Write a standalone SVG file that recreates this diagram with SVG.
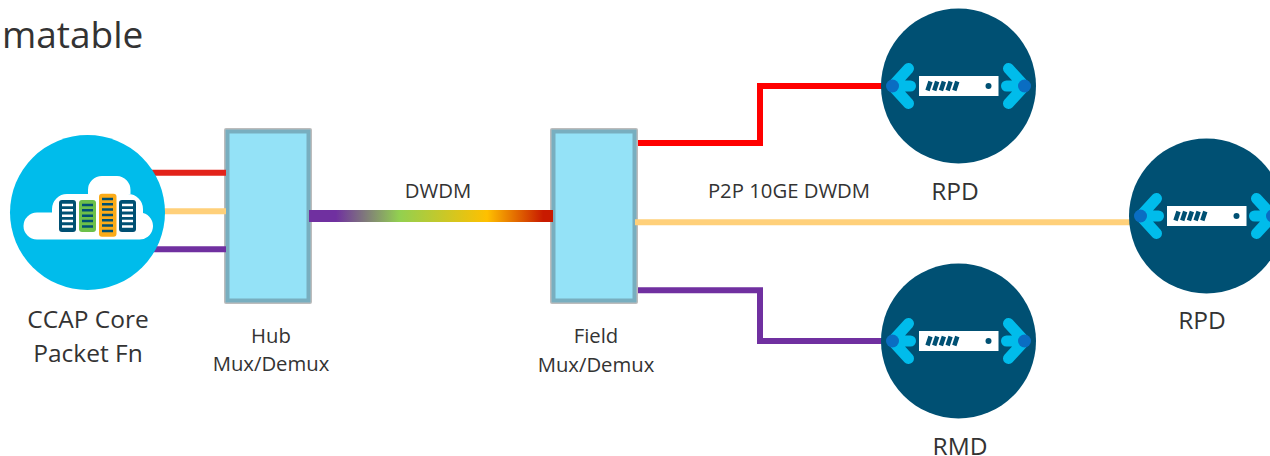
<svg xmlns="http://www.w3.org/2000/svg" width="1270" height="456" viewBox="0 0 1270 456">
<style>
text{font-family:"Open Sans","Noto Sans","Liberation Sans",sans-serif;fill:#333;text-anchor:middle}
.l{font-size:24.5px}.s{font-size:20.300px}
.c{fill:none;stroke-linejoin:miter}
.box{fill:#94e2f7;stroke:#78aebf;stroke-width:4}
.boxo{fill:#bcbcbc}
</style>
<defs>
<linearGradient id="g" x1="0" x2="1" y1="0" y2="0">
<stop offset="0" stop-color="#7030a0"/><stop offset=".11" stop-color="#7030a0"/><stop offset=".37" stop-color="#92d050"/><stop offset=".73" stop-color="#ffc000"/><stop offset=".96" stop-color="#c81a00"/><stop offset="1" stop-color="#c81a00"/>
</linearGradient>
<g id="rpd">
<circle r="77.500" fill="#005073"/>
<rect x="-39.500" y="-10" width="79.500" height="20" fill="#fff"/>
<path d="M-28-4.500l-3 9M-21.300-4.500l-3 9M-14.600-4.500l-3 9M-7.900-4.500l-3 9M-1.200-4.500l-3 9" stroke="#005073" stroke-width="4.500" fill="none"/>
<circle cx="30" r="3" fill="#005073"/>
<g stroke="#00bceb" stroke-width="11" stroke-linecap="round" stroke-linejoin="round" fill="none">
<path d="M-50-17.500L-66 0L-50 17.500M-66 0H-48"/>
<path d="M50-17.500L66 0L50 17.500M66 0H48"/>
</g>
<circle cx="-66" r="6.500" fill="#0a6dc2"/><circle cx="66" r="6.500" fill="#0a6dc2"/>
</g>
</defs>
<text x="2" y="48" style="font-size:37px;text-anchor:start">matable</text>
<g id="hub">
<rect class="boxo" x="224" y="128" width="88" height="176" rx="2"/>
<rect class="box" x="227.500" y="131.500" width="81" height="169"/>
<text class="s" x="271" y="343">Hub</text>
<text class="s" x="271" y="371">Mux/Demux</text>
</g>
<g id="field">
<rect class="boxo" x="550" y="128" width="88" height="176" rx="2"/>
<rect class="box" x="553.500" y="131.500" width="81" height="169"/>
<text class="s" x="596" y="343">Field</text>
<text class="s" x="596" y="372">Mux/Demux</text>
</g>
<g id="connectors">
<path class="c" d="M150 172.700H226" stroke="#e2231a" stroke-width="6"/>
<path class="c" d="M150 211.300H226" stroke="#ffd07a" stroke-width="6"/>
<path class="c" d="M150 249.300H226" stroke="#7030a0" stroke-width="6"/>
<rect x="309" y="210" width="244" height="12" fill="url(#g)"/>
<path class="c" d="M638 143H760V86H890" stroke="#ff0000" stroke-width="6"/>
<path class="c" d="M635 222.300H1135" stroke="#ffd07a" stroke-width="6"/>
<path class="c" d="M638 290.300H760V341H890" stroke="#7030a0" stroke-width="6"/>
</g>
<g id="ccap">
<circle cx="87.500" cy="212.500" r="77.500" fill="#00bceb"/>
<path d="M37 239.500H138.500A13.500 13.500 0 0 0 143 213V209A15 15 0 0 0 128 194H130.500V190A14 14 0 0 0 117 176H102A14 14 0 0 0 88 190V194H67A15 15 0 0 0 52 209V212.500H37A13.500 13.500 0 0 0 37 239.500z" fill="#fff"/>
<rect x="59" y="200" width="17" height="32" rx="3" fill="#005073"/>
<rect x="79" y="200" width="17" height="32" rx="3" fill="#6cc04a"/>
<rect x="99" y="193.700" width="17.500" height="43" rx="3" fill="#fbab18"/>
<rect x="119" y="200" width="17" height="32" rx="3" fill="#005073"/>
<path d="M62 205H73M62 210.300H73M62 215.700H73M62 221H73M62 226.500H73M122 205H133M122 210.300H133M122 215.700H133M122 221H133M122 226.500H133" stroke="#fff" stroke-width="2.500"/>
<path d="M82 205H93M82 210.300H93M82 215.700H93M82 221H93M82 226.500H93M102 199H113M102 204.300H113M102 209.600H113M102 215H113M102 220.300H113M102 225.600H113M102 231H113" stroke="#005073" stroke-width="2.500"/>
<text class="l" x="88" y="328">CCAP Core</text>
<text class="l" x="88" y="362">Packet Fn</text>
</g>
<text id="dwdm" class="s" x="438" y="198">DWDM</text>
<text id="p2p" class="s" x="789" y="198">P2P 10GE DWDM</text>
<g id="rpd1"><use href="#rpd" x="958.500" y="86"/><text class="l" x="955" y="200">RPD</text></g>
<g id="rpd2"><use href="#rpd" x="1206.500" y="216"/><text class="l" x="1202" y="329">RPD</text></g>
<g id="rmd"><use href="#rpd" x="958.500" y="341"/><text class="l" x="960" y="454.500">RMD</text></g>
</svg>
